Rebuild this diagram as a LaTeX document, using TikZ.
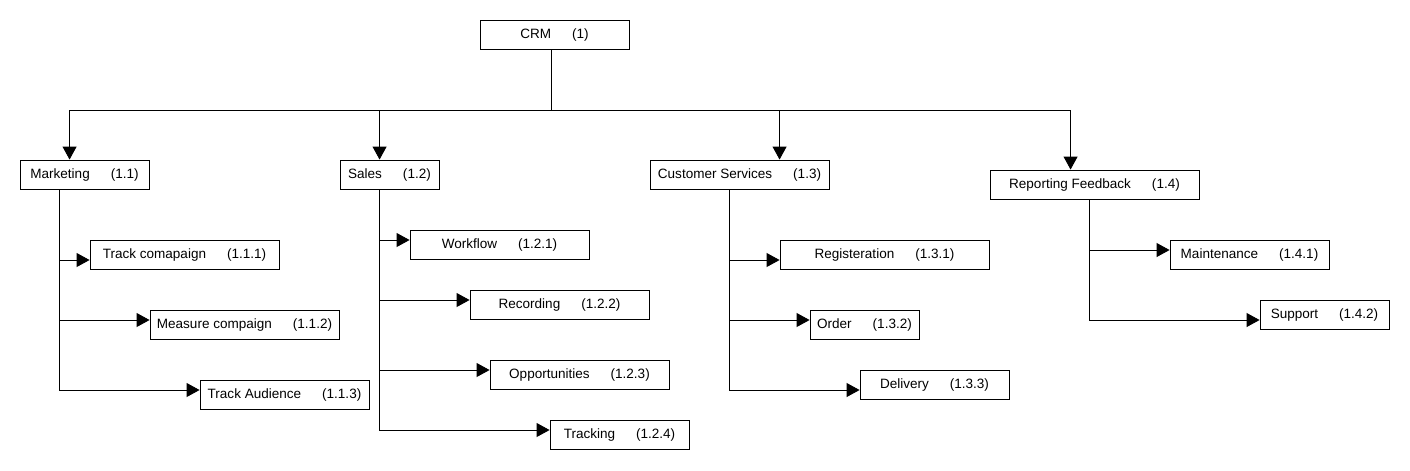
\documentclass[tikz,border=0pt]{standalone}
\usepackage{fontspec}
\setmainfont{Liberation Sans}
\usetikzlibrary{arrows.meta}

\newcommand{\lbl}[2]{#1\hspace{0.42cm}(#2)}

\tikzset{
	box/.style = {draw, line width = 0.5pt, minimum height = 0.58cm, inner sep = 0pt,
		font = \fontsize{7.7}{9}\selectfont},
	link/.style = {line width = 0.5pt}
}

\begin{document}
\begin{tikzpicture}[> = {Triangle[length = 0.26cm, width = 0.28cm]}]

	\useasboundingbox (0, 0) rectangle (28.2, -9.4);

	% Top level

	\node [box, minimum width = 2.98cm] (crm) at (11.09, -0.69) {\lbl{CRM}{1}};

	% Second level

	\node [box, minimum width = 2.58cm] (mk) at (1.69, -3.49) {\lbl{Marketing}{1.1}};
	\node [box, minimum width = 1.98cm] (sa) at (7.79, -3.49) {\lbl{Sales}{1.2}};
	\node [box, minimum width = 3.58cm] (cs) at (14.79, -3.49) {\lbl{Customer Services}{1.3}};
	\node [box, minimum width = 4.18cm] (rf) at (21.89, -3.69) {\lbl{Reporting Feedback}{1.4}};

	% Third level

	\node [box, minimum width = 3.78cm] (tc) at (3.69, -5.09) {\lbl{Track comapaign}{1.1.1}};
	\node [box, minimum width = 3.78cm] (mc) at (4.89, -6.49) {\lbl{Measure compaign}{1.1.2}};
	\node [box, minimum width = 3.38cm] (ta) at (5.69, -7.89) {\lbl{Track Audience}{1.1.3}};

	\node [box, minimum width = 3.58cm] (wf) at (9.99, -4.89) {\lbl{Workflow}{1.2.1}};
	\node [box, minimum width = 3.58cm] (rc) at (11.19, -6.09) {\lbl{Recording}{1.2.2}};
	\node [box, minimum width = 3.58cm] (op) at (11.59, -7.49) {\lbl{Opportunities}{1.2.3}};
	\node [box, minimum width = 2.78cm] (tr) at (12.39, -8.69) {\lbl{Tracking}{1.2.4}};

	\node [box, minimum width = 4.18cm] (rg) at (17.69, -5.09) {\lbl{Registeration}{1.3.1}};
	\node [box, minimum width = 2.18cm] (od) at (17.29, -6.49) {\lbl{Order}{1.3.2}};
	\node [box, minimum width = 2.98cm] (dl) at (18.69, -7.69) {\lbl{Delivery}{1.3.3}};

	\node [box, minimum width = 3.18cm] (mt) at (24.99, -5.09) {\lbl{Maintenance}{1.4.1}};
	\node [box, minimum width = 2.58cm] (sp) at (26.49, -6.29) {\lbl{Support}{1.4.2}};

	% Bus under CRM

	\coordinate (bus) at ([xshift = -0.07cm, yshift = -1.22cm]crm.south);
	\draw [link] ([xshift = -0.07cm]crm.south) -- (bus);

	\draw [link, ->] (bus) -| ([xshift = 1.0cm]mk.north west);
	\draw [link, ->] (bus) -| ([xshift = 0.8cm]sa.north west);
	\draw [link, ->] (bus) -| ([xshift = 2.6cm]cs.north west);
	\draw [link, ->] (bus) -| ([xshift = 1.62cm]rf.north west);

	% Branches

	\draw [link, ->] ([xshift = 0.8cm]mk.south west) |- ([yshift = -0.11cm]tc.west);
	\draw [link, ->] ([xshift = 0.8cm]mk.south west) |- ([yshift = 0.09cm]mc.west);
	\draw [link, ->] ([xshift = 0.8cm]mk.south west) |- ([yshift = 0.09cm]ta.west);

	\foreach \n in {wf, rc, op, tr}
		\draw [link, ->] ([xshift = 0.8cm]sa.south west) |- ([yshift = 0.09cm]\n.west);

	\draw [link, ->] ([xshift = 1.6cm]cs.south west) |- ([yshift = -0.11cm]rg.west);
	\draw [link, ->] ([xshift = 1.6cm]cs.south west) |- ([yshift = 0.09cm]od.west);
	\draw [link, ->] ([xshift = 1.6cm]cs.south west) |- ([yshift = -0.11cm]dl.west);

	\draw [link, ->] ([xshift = 2.0cm]rf.south west) |- ([yshift = 0.09cm]mt.west);
	\draw [link, ->] ([xshift = 2.0cm]rf.south west) |- ([yshift = -0.11cm]sp.west);

\end{tikzpicture}
\end{document}
